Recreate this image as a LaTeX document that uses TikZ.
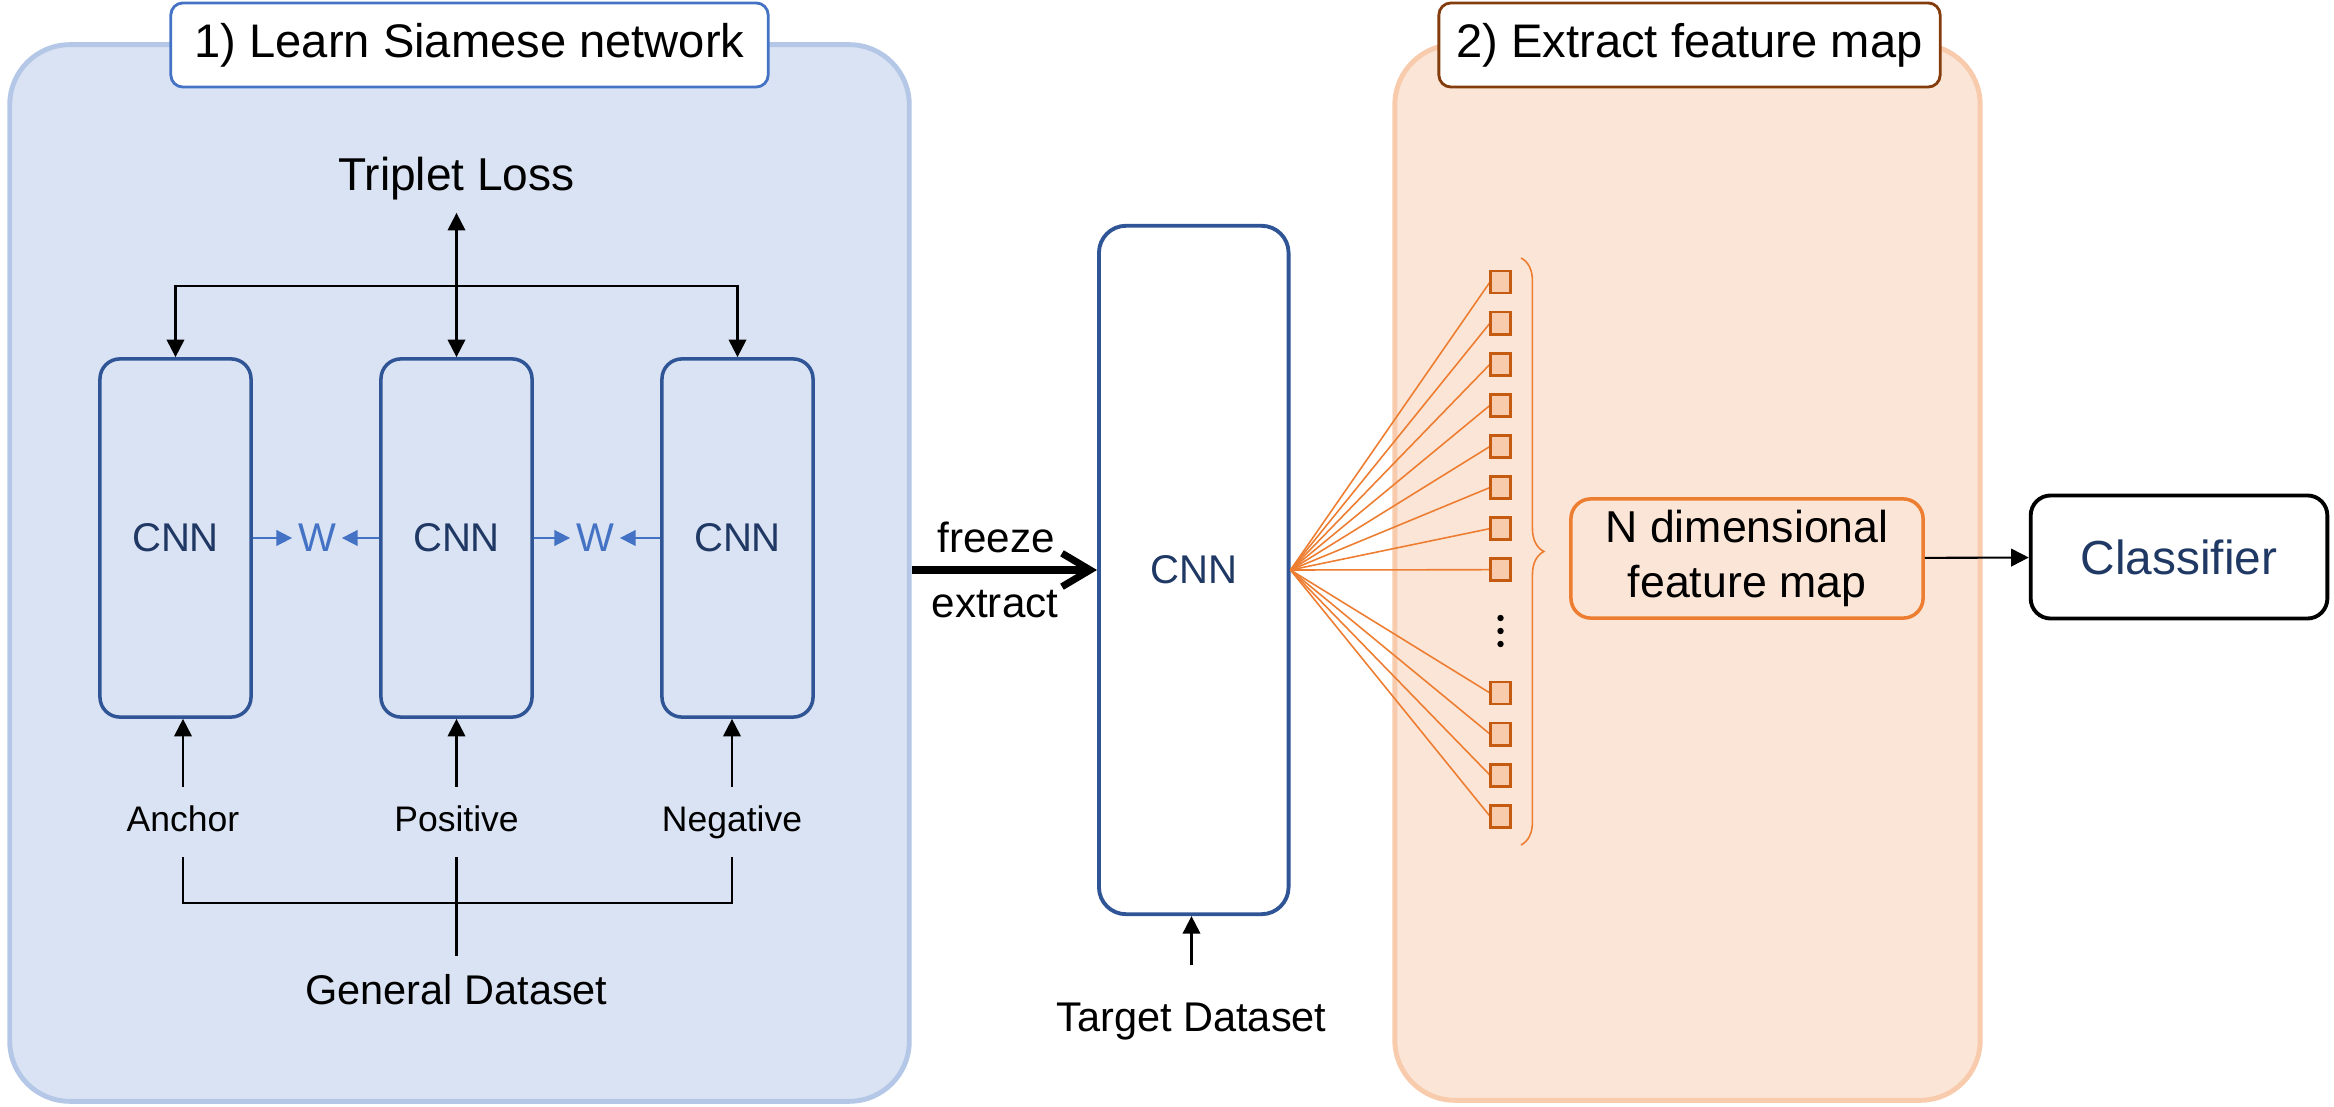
\documentclass[tikz,border=0pt]{standalone}
\usepackage{fontspec}
\setmainfont{Liberation Sans}
\usetikzlibrary{arrows.meta,decorations.pathreplacing}
\definecolor{siamfill}{HTML}{DAE3F3}
\definecolor{siamline}{HTML}{B4C7E7}
\definecolor{cnnline}{HTML}{2F5597}
\definecolor{cnntext}{HTML}{1F3864}
\definecolor{wblue}{HTML}{4472C4}
\definecolor{featfill}{HTML}{FBE5D6}
\definecolor{featline}{HTML}{F8CBAD}
\definecolor{brownline}{HTML}{843C0C}
\definecolor{sqline}{HTML}{C55A11}
\definecolor{orangeline}{HTML}{ED7D31}

\begin{document}
\begin{tikzpicture}[x=0.01cm, y=-0.01cm,
	panel/.style = {rounded corners=0.6cm, line width=1.4pt, inner sep=0pt},
	heading/.style = {draw, fill=white, rounded corners=0.12cm, line width=0.8pt, minimum height=0.84cm, font=\fontsize{13.4}{16}\selectfont},
	cnn/.style = {draw=cnnline, line width=1pt, text=cnntext, font=\fontsize{11.4}{14}\selectfont},
	tag/.style = {font=\fontsize{10.1}{12}\selectfont, text height=0.75em, text depth=0.21em, inner sep=5pt},
	dataset/.style = {font=\fontsize{11.8}{14}\selectfont, text height=0.75em, text depth=0.21em, inner sep=6pt},
	weight/.style = {text=wblue, font=\fontsize{11.4}{14}\selectfont, inner sep=1.5pt},
	arr/.style = {-{Triangle[length=5pt,width=5pt]}, line width=0.6pt},
	warr/.style = {-{Triangle[length=4.5pt,width=4.5pt]}, draw=wblue, fill=wblue, line width=0.5pt},
	cell/.style = {draw=sqline, fill=featline, line width=0.8pt, minimum width=0.2cm, minimum height=0.22cm, inner sep=0pt},
	wire/.style = {draw=orangeline, line width=0.45pt}]
	
	\useasboundingbox (0,0) rectangle (2334,1107);
	
	\node[panel, draw=siamline, fill=siamfill, minimum width=8.99cm, minimum height=10.56cm] (siam) at (459.5,573) {};
	\node[panel, draw=featline, fill=featfill, minimum width=5.85cm, minimum height=10.55cm] (feat) at (1687.5,572.5) {};
	\node[heading, draw=wblue, minimum width=5.97cm] (t1) at (469.5,45) {1) Learn Siamese network};
	\node[heading, draw=brownline, minimum width=5.01cm] (t2) at (1689.5,45) {2) Extract feature map};
	
	\node[font=\fontsize{13.1}{16}\selectfont] (loss) at (456.5,179) {Triplet Loss};
	\node[cnn, rounded corners=0.2cm, minimum width=1.51cm, minimum height=3.58cm] (cnnA) at (175.5,538) {CNN};
	\node[cnn, rounded corners=0.2cm, minimum width=1.51cm, minimum height=3.58cm] (cnnP) at (456.5,538) {CNN};
	\node[cnn, rounded corners=0.2cm, minimum width=1.51cm, minimum height=3.58cm] (cnnN) at (737.5,538) {CNN};
	\node[weight] (wl) at (317,538) {W};
	\node[weight] (wr) at (595,538) {W};
	\draw[warr] (cnnA) -- (wl);
	\draw[warr] (cnnP) -- (wl);
	\draw[warr] (cnnP) -- (wr);
	\draw[warr] (cnnN) -- (wr);
	
	\coordinate (hub) at (456.5,286);
	\draw[arr] (hub) -- (loss);
	\draw[arr] (hub) -- (cnnP);
	\draw[arr] (hub) -| (cnnA.north);
	\draw[arr] (hub) -| (cnnN.north);
	
	\node[tag] (anchor) at (183,822) {Anchor};
	\node[tag] (positive) at (456.5,822) {Positive};
	\node[tag] (negative) at (732,822) {Negative};
	\draw[arr] (anchor) -- (anchor |- cnnA.south);
	\draw[arr] (positive) -- (cnnP);
	\draw[arr] (negative) -- (negative |- cnnN.south);
	\node[dataset] (general) at (456.5,995) {General Dataset};
	\coordinate (join) at (456.5,903);
	\draw[line width=0.6pt] (anchor) |- (join) -| (negative);
	\draw[line width=0.6pt] (positive) -- (general);
	
	\node[cnn, line width=1.1pt, rounded corners=0.27cm, minimum width=1.895cm, minimum height=6.88cm] (frozen) at (1193.75,570) {CNN};
	\draw[-{Straight Barb[length=8pt,width=9.5pt]}, line width=2pt] (siam.east |- frozen) -- (frozen);
	\node[font=\fontsize{12}{14}\selectfont] (fr) at (996,537) {freeze};
	\node[font=\fontsize{12}{14}\selectfont] (ex) at (995,604) {extract};
	\node[dataset] (target) at (1191.5,1022) {Target Dataset};
	\draw[arr, shorten <=0.18cm] (target.north) -- (target |- frozen.south);
	
	\foreach \k in {0,...,7,10,11,12,13} {
		\draw[wire] (frozen.east) -- (1490,282+41.1*\k);
		\node[cell] (sq\k) at (1500.5,282+41.1*\k) {};
	}
	\foreach \d in {618,631,644}
		\fill (1500.5,\d) circle (3.2);
	\draw[wire, decorate, decoration={brace, amplitude=6.5pt}] (1521,258) -- (1521,845);
	
	\node[draw=orangeline, line width=1pt, rounded corners=0.2cm, minimum width=3.52cm, minimum height=1.17cm, align=center, font=\fontsize{12.7}{15.4}\selectfont] (nmap) at (1747,558.5) {N dimensional\\feature map};
	\node[draw, line width=1.1pt, rounded corners=0.2cm, minimum width=2.965cm, minimum height=1.23cm, text=cnntext, font=\fontsize{13.6}{16}\selectfont] (cls) at (2179,557) {Classifier};
	\draw[arr] (nmap) -- (cls);
\end{tikzpicture}
\end{document}
